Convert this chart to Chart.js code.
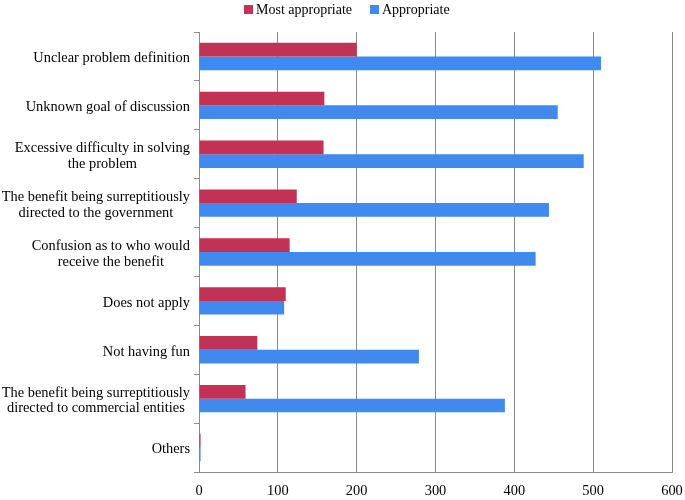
<!DOCTYPE html>
<html>
<head>
<meta charset="utf-8">
<script src="https://cdn.jsdelivr.net/npm/chart.js@4"></script>
<style>
  html, body { margin: 0; padding: 0; background: #fff; }
  #wrap { position: relative; width: 685px; height: 500px; }
  #legend {
    position: absolute; top: 0; left: 0; width: 685px; height: 20px;
    font-family: "Liberation Serif", "Times New Roman", serif; font-size: 14px; color: #000;
  }
  #legend span { position: absolute; top: 2px; line-height: 16px; white-space: nowrap; }
  #legend i { display: inline-block; width: 9px; height: 9px; margin-right: 3px; vertical-align: 0px; }
</style>
</head>
<body>
<div id="wrap">
  <canvas id="chart"></canvas>
  <div id="legend"></div>
</div>
<script>
// categories (multi-line labels as arrays)
const categories = [
  'Unclear problem definition',
  'Unknown goal of discussion',
  ['Excessive difficulty in solving', 'the problem'],
  ['The benefit being surreptitiously', 'directed to the government'],
  ['Confusion as to who would', 'receive the benefit'],
  'Does not apply',
  'Not having fun',
  ['The benefit being surreptitiously', 'directed to commercial entities'],
  'Others'
];
const mostAppropriate = [200, 159, 158, 124, 115, 110, 74, 59, 2];
const appropriate = [510, 455, 488, 444, 427, 108, 279, 388, 2];
const xTicks = [0, 100, 200, 300, 400, 500, 600];
const seriesNames = ['Most appropriate', 'Appropriate'];
const seriesColors = ['#C13254', '#3F89EF'];

const serif = '"Liberation Serif", "Times New Roman", serif';
const labelFont = 14.4;

// legend (html, to get the wide spacing of the original)
const legendPos = [244, 370];
document.getElementById('legend').innerHTML = seriesNames.map((n, i) =>
  `<span style="left:${legendPos[i]}px"><i style="background:${seriesColors[i]}"></i>${n}</span>`
).join('');

// y labels: block right-aligned, lines centred inside block
const centredLabels = {
  id: 'centredLabels',
  afterDraw(chart) {
    const y = chart.scales.y;
    const ctx = chart.ctx;
    ctx.save();
    ctx.font = `${labelFont}px ${serif}`;
    ctx.fillStyle = '#000';
    ctx.textAlign = 'center';
    ctx.textBaseline = 'middle';
    const right = y.right - 5 - 4;
    const lh = 15.5;
    categories.forEach((lab, i) => {
      const lines = Array.isArray(lab) ? lab : [lab];
      const w = Math.max(...lines.map(l => ctx.measureText(l).width));
      const cx = right - w / 2;
      const cy = y.getPixelForTick(i) + 2;
      lines.forEach((l, k) => {
        ctx.fillText(l, cx, cy + (k - (lines.length - 1) / 2) * lh);
      });
    });
    ctx.restore();
  }
};

new Chart(document.getElementById('chart'), {
  type: 'bar',
  data: {
    labels: categories,
    datasets: seriesNames.map((n, i) => ({
      label: n,
      data: i === 0 ? mostAppropriate : appropriate,
      backgroundColor: seriesColors[i],
      categoryPercentage: 0.56,
      barPercentage: 1
    }))
  },
  options: {
    indexAxis: 'y',
    responsive: true,
    maintainAspectRatio: false,
    animation: false,
    layout: { padding: { top: 32, right: 13, left: 0, bottom: 0 } },
    plugins: {
      legend: { display: false },
      tooltip: { enabled: false }
    },
    scales: {
      x: {
        min: 0, max: 600,
        afterBuildTicks: axis => { axis.ticks = xTicks.map(v => ({ value: v })); },
        afterFit: axis => { axis.height = 28; axis.paddingRight = 0; axis.paddingLeft = 0; },
        grid: { color: '#8c8c8c', lineWidth: 1, drawTicks: false },
        border: { color: '#8c8c8c' },
        ticks: { color: '#000', font: { family: serif, size: labelFont }, padding: 11 }
      },
      y: {
        offset: true,
        afterFit: axis => { axis.width = 199; },
        grid: { offset: true, drawOnChartArea: false, color: '#8c8c8c', tickLength: 5 },
        border: { color: '#8c8c8c' },
        ticks: { color: 'rgba(0,0,0,0)', font: { family: serif, size: labelFont } }
      }
    }
  },
  plugins: [centredLabels]
});
</script>
</body>
</html>
